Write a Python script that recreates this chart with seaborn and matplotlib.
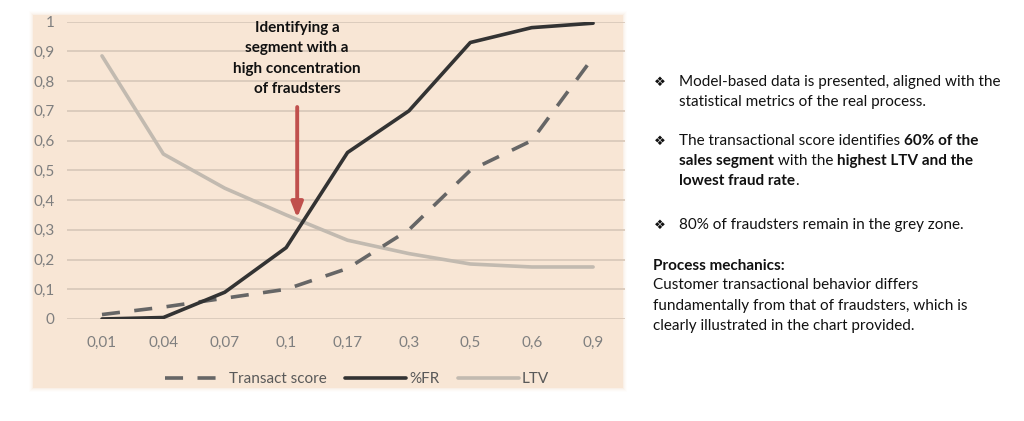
import numpy as np
import pandas as pd
import matplotlib
matplotlib.use("Agg")
import matplotlib.pyplot as plt
import matplotlib.patches as patches
import seaborn as sns

# dati
soglie = ["0,01", "0,04", "0,07", "0,1", "0,17", "0,3", "0,5", "0,6", "0,9"]
transact_score = [0.015, 0.04, 0.07, 0.10, 0.17, 0.30, 0.50, 0.60, 0.88]
fr = [0.0, 0.005, 0.09, 0.24, 0.56, 0.70, 0.93, 0.98, 0.995]
ltv = [0.885, 0.555, 0.44, 0.35, 0.265, 0.22, 0.185, 0.175, 0.175]
y_ticks = [0, 0.1, 0.2, 0.3, 0.4, 0.5, 0.6, 0.7, 0.8, 0.9, 1]
y_labels = ["0", "0,1", "0,2", "0,3", "0,4", "0,5", "0,6", "0,7", "0,8", "0,9", "1"]

sns.set_style("white")
plt.rcParams["font.family"] = ["Lato", "DejaVu Sans"]

W, H = 1024, 421
fig = plt.figure(figsize=(W / 100, H / 100), dpi=100)


def fx(px):
    return px / W


def fy(py):
    return 1 - py / H


# pannello color pesca con ombra sfumata
for i, a in enumerate([0.05, 0.08, 0.12, 0.2]):
    g = 4 - i
    fig.patches.append(patches.Rectangle((fx(33 - g), fy(388 + g)), fx(590 + 2 * g), (373 + 2 * g) / H,
                                         transform=fig.transFigure, facecolor="#F3DCC6", alpha=a,
                                         edgecolor="none", zorder=-2))
panel = patches.Rectangle((fx(33), fy(388)), fx(590), 373 / H, transform=fig.transFigure,
                          facecolor="#F8E6D5", edgecolor="none", zorder=-1)
fig.patches.append(panel)

ax = fig.add_axes([fx(67), fy(319), fx(558), (319 - 21.7) / H])
ax.set_facecolor("none")

df = pd.DataFrame({"x": np.arange(len(soglie)), "Transact score": transact_score, "%FR": fr, "LTV": ltv})

sns.lineplot(data=df, x="x", y="LTV", ax=ax, color="#C2BAB0", lw=2.6, label="LTV", zorder=3)
sns.lineplot(data=df, x="x", y="Transact score", ax=ax, color="#666666", lw=2.6,
             label="Transact score", zorder=4)
ax.lines[-1].set_dashes((5, 4))
sns.lineplot(data=df, x="x", y="%FR", ax=ax, color="#333333", lw=2.6, label="%FR", zorder=5)

ax.set_xlim(-0.57, 8.52)
ax.set_ylim(0, 1)
ax.set_xticks(range(len(soglie)))
ax.set_xticklabels(soglie)
ax.set_yticks(y_ticks)
ax.set_yticklabels(y_labels)
ax.set_xlabel("")
ax.set_ylabel("")
for s in ax.spines.values():
    s.set_visible(False)
ax.grid(axis="y", color="#DACABB", lw=1.3)
ax.set_axisbelow(True)
ax.tick_params(axis="both", length=0, labelsize=11, labelcolor="#7F7F7F")
ax.tick_params(axis="y", pad=9)
ax.tick_params(axis="x", pad=12)
for lbl in ax.get_yticklabels():
    lbl.set_clip_path(panel)

# legenda in basso
handles, labels = ax.get_legend_handles_labels()
ordine = [labels.index(n) for n in ["Transact score", "%FR", "LTV"]]
ax.get_legend().remove()
leg = fig.legend([handles[i] for i in ordine], [labels[i] for i in ordine], loc="center",
                 bbox_to_anchor=(fx(357), fy(379)), ncol=3, frameon=False, fontsize=11,
                 handlelength=4.0, columnspacing=1.2, handletextpad=0.2, labelcolor="#595959")

# annotazione con freccia rossa
ax.text(3.18, 0.876, "Identifying a\nsegment with a\nhigh concentration\nof fraudsters", ha="center",
        va="center", fontsize=11, fontweight="bold", color="#111111", linespacing=1.58, zorder=6)
ax.annotate("", xy=(3.18, 0.34), xytext=(3.18, 0.713),
            arrowprops=dict(arrowstyle="-|>,head_length=0.9,head_width=0.35", color="#C0504D", lw=2.8,
                            shrinkA=0, shrinkB=0),
            zorder=6)

# testo a destra
renderer = fig.canvas.get_renderer()


def riga(x, y, pezzi, size=11):
    for testo, peso in pezzi:
        t = fig.text(fx(x), fy(y), testo, fontsize=size, fontweight=peso, va="center", ha="left",
                     color="#111111")
        x = t.get_window_extent(renderer).x1


bul = "\u2756"
for yb in [82, 141, 225]:
    fig.text(fx(660), fy(yb), bul, fontsize=9.5, va="center", ha="center", family="DejaVu Sans", color="#111111")

riga(679, 82, [("Model-based data is presented, aligned with the", "normal")])
riga(679, 102, [("statistical metrics of the real process.", "normal")])
riga(679, 141, [("The transactional score identifies ", "normal"), ("60% of the", "bold")])
riga(679, 161, [("sales segment", "bold"), (" with the ", "normal"), ("highest LTV and the", "bold")])
riga(679, 181, [("lowest fraud rate", "bold"), (".", "normal")])
riga(679, 225, [("80% of fraudsters remain in the grey zone.", "normal")])
riga(653, 266, [("Process mechanics:", "bold")])
riga(653, 285, [("Customer transactional behavior differs", "normal")])
riga(653, 306, [("fundamentally from that of fraudsters, which is", "normal")])
riga(653, 326, [("clearly illustrated in the chart provided.", "normal")])

fig.savefig("out.png", dpi=100)
